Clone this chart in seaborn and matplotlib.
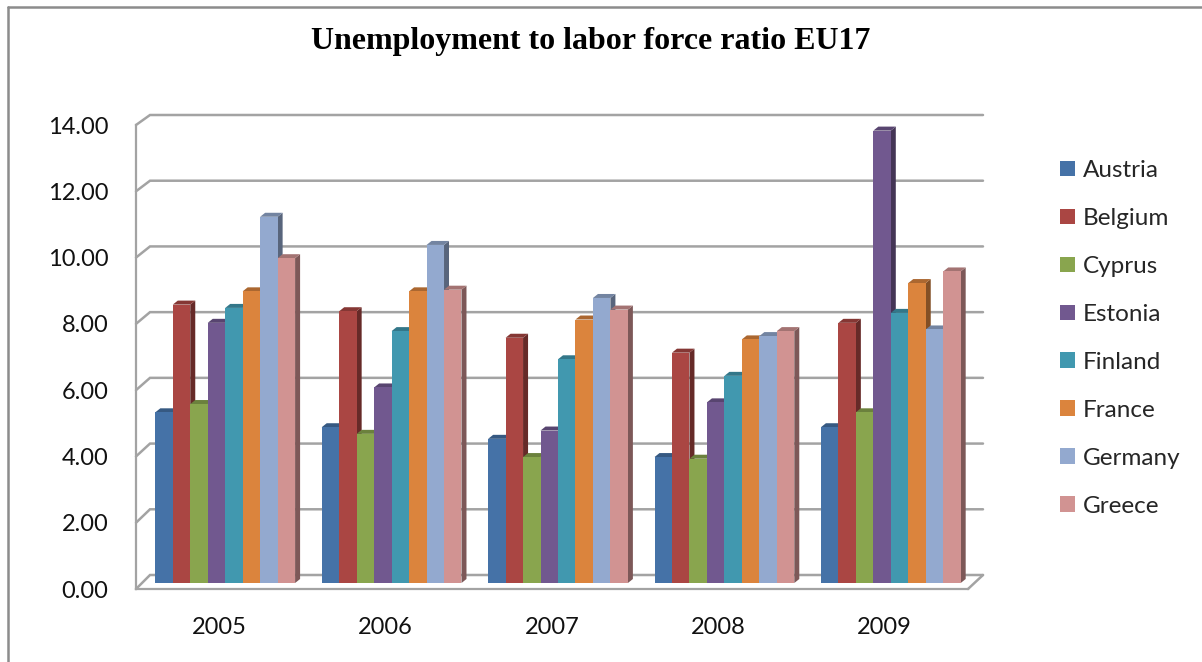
import numpy as np
import pandas as pd
import matplotlib
matplotlib.use("Agg")
import matplotlib.pyplot as plt
import matplotlib.transforms as mtrans
from matplotlib.patches import Polygon, Patch
from matplotlib.lines import Line2D
import seaborn as sns

# ---------------- data ----------------
years = ["2005", "2006", "2007", "2008", "2009"]
countries = ["Austria", "Belgium", "Cyprus", "Estonia", "Finland", "France", "Germany", "Greece"]
austria = [5.15, 4.70, 4.35, 3.80, 4.70]
belgium = [8.40, 8.20, 7.40, 6.95, 7.85]
cyprus = [5.40, 4.50, 3.80, 3.75, 5.15]
estonia = [7.85, 5.90, 4.60, 5.45, 13.65]
finland = [8.30, 7.60, 6.75, 6.25, 8.15]
france = [8.80, 8.80, 7.95, 7.35, 9.05]
germany = [11.05, 10.20, 8.60, 7.45, 7.65]
greece = [9.80, 8.85, 8.25, 7.60, 9.40]
yticks = [0, 2, 4, 6, 8, 10, 12, 14]
title = "Unemployment to labor force ratio EU17"

colors = ["#4572A7", "#AA4643", "#89A54E", "#71588F", "#4198AF", "#DB843D", "#93A9CF", "#D19392"]

series = [austria, belgium, cyprus, estonia, finland, france, germany, greece]
df = pd.DataFrame(
    [(y, c, v) for c, vals in zip(countries, series) for y, v in zip(years, vals)],
    columns=["Year", "Country", "Value"],
)

# ---------------- figure ----------------
sns.set_style("white")
plt.rcParams["font.family"] = ["Lato", "DejaVu Sans"]

W, H = 1202, 662
DPI = 100
fig = plt.figure(figsize=(W / DPI, H / DPI), dpi=DPI)
AX_L, AX_R, AX_B, AX_T = 136, 968, 589, 125
ax = fig.add_axes([AX_L / W, (H - AX_B) / H, (AX_R - AX_L) / W, (AX_B - AX_T) / H])

sns.barplot(data=df, x="Year", y="Value", hue="Country", hue_order=countries,
            order=years, palette=colors, width=0.84, saturation=1, linewidth=0,
            errorbar=None, legend=False, ax=ax)

ax.set_xlim(-0.5, 4.5)
ax.set_ylim(0, 14)
ax.set_xlabel("")
ax.set_ylabel("")
ax.grid(False)

gray = "#a3a3a3"
for s in ["top", "right"]:
    ax.spines[s].set_visible(False)
for s in ["left", "bottom"]:
    ax.spines[s].set_color(gray)
    ax.spines[s].set_linewidth(1.6)

ax.set_yticks(yticks)
ax.set_yticklabels([f"{v:.2f}" for v in yticks], fontsize=17, color="#111111")
ax.tick_params(axis="y", length=6, width=1.5, color=gray, direction="out", pad=14)

ax.set_xticks(np.arange(-0.5, 5, 1))
ax.set_xticklabels([])
ax.set_xticks(range(len(years)), minor=True)
ax.set_xticklabels(years, minor=True, fontsize=17, color="#111111")
ax.tick_params(axis="x", which="major", length=6, width=1.5, color=gray, direction="out")
ax.tick_params(axis="x", which="minor", length=0, pad=20)

# ---------------- pseudo 3D ----------------
BX, BY = 6, 6          # bar shift (pixels) from front axis
DX, DY = 5, 4          # bar depth
bar_off = mtrans.ScaledTranslation(BX / DPI, BY / DPI, fig.dpi_scale_trans)
bars = list(ax.patches)
tr = ax.transData
inv = tr.inverted()


def darker(c, f):
    r, g, b = matplotlib.colors.to_rgb(c)
    return (r * f, g * f, b * f)


for p in bars:
    p.set_transform(tr + bar_off)
    p.set_zorder(3)
    x0, w, h = p.get_x(), p.get_width(), p.get_height()
    (dx0, dyb), (dx1, dyt) = tr.transform([[x0, 0], [x0 + w, h]])
    dx0 += BX; dx1 += BX; dyb += BY; dyt += BY
    fc = p.get_facecolor()
    side = [(dx1, dyb), (dx1, dyt), (dx1 + DX, dyt + DY), (dx1 + DX, dyb + DY)]
    top = [(dx0, dyt), (dx1, dyt), (dx1 + DX, dyt + DY), (dx0 + DX, dyt + DY)]
    ax.add_patch(Polygon(inv.transform(side), closed=True, facecolor=darker(fc, 0.6),
                         edgecolor="none", zorder=2, clip_on=False))
    ax.add_patch(Polygon(inv.transform(top), closed=True, facecolor=darker(fc, 0.78),
                         edgecolor="none", zorder=2.5, clip_on=False))

# back wall gridlines with connectors to the front axis
left_d = tr.transform([[-0.5, 0]])[0][0]
right_d = tr.transform([[4.5, 0]])[0][0]
for v in yticks:
    fy = tr.transform([[0, v]])[0][1]
    by = fy + 14 - 4 * v / 14
    pts = inv.transform([[left_d, fy], [left_d + 14, by], [right_d + 15, by]])
    ax.plot(pts[:, 0], pts[:, 1], color=gray, lw=1.8, zorder=1, clip_on=False,
            solid_joinstyle="miter")
# floor right edge
fy0 = tr.transform([[0, 0]])[0][1]
pts = inv.transform([[right_d, fy0], [right_d + 15, fy0 + 14]])
ax.plot(pts[:, 0], pts[:, 1], color=gray, lw=1.8, zorder=1, clip_on=False)

# ---------------- title, legend, frame ----------------
fig.text(591 / W, 1 - 42 / H, title, ha="center", va="center", fontsize=23,
         fontweight="bold", family=["Liberation Serif", "DejaVu Serif"], color="#000000")

handles = [Patch(facecolor=c, edgecolor="none") for c in colors]
fig.legend(handles, countries, loc="upper left", bbox_to_anchor=(1060 / W, 1 - 160 / H),
           frameon=False, fontsize=17.5, handlelength=0.62, handleheight=0.62,
           handletextpad=0.33, labelspacing=1.11, borderpad=0, borderaxespad=0)

fig.add_artist(Line2D([8 / W, 8 / W], [0, 1 - 7 / H], transform=fig.transFigure,
                      color="#8c8c8c", lw=1.8))
fig.add_artist(Line2D([8 / W, 1], [1 - 7 / H, 1 - 7 / H], transform=fig.transFigure,
                      color="#8c8c8c", lw=1.8))

fig.savefig("out.png", dpi=DPI, facecolor="white")
